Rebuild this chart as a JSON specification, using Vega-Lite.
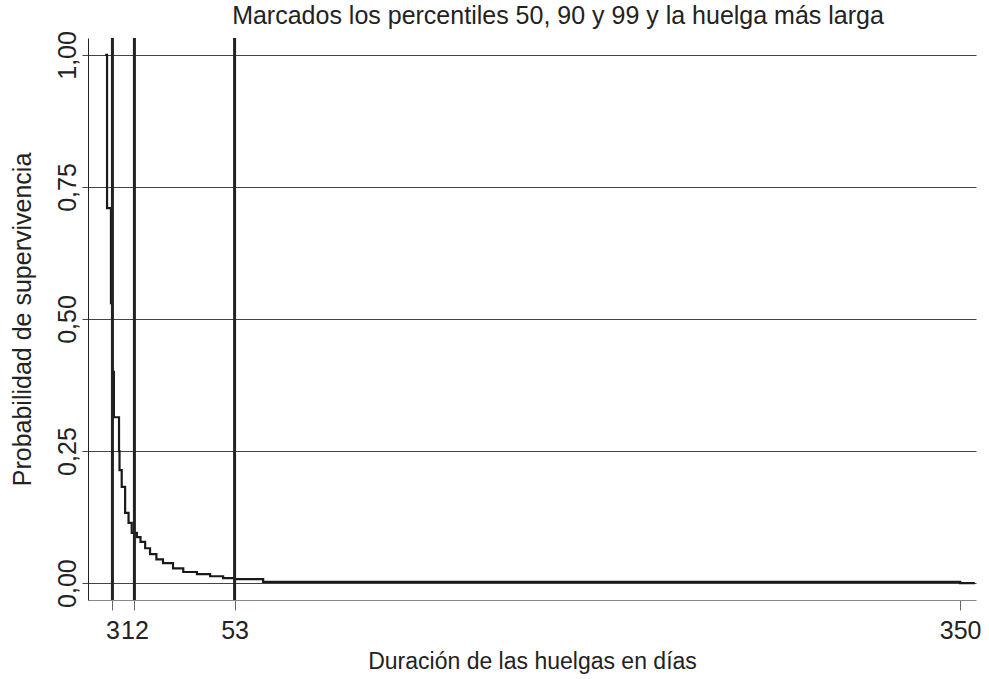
{
  "$schema": "https://vega.github.io/schema/vega-lite/v6.json",
  "width": 888,
  "height": 562,
  "autosize": {"type": "none"},
  "padding": {"left": 88, "top": 38, "right": 13, "bottom": 79},
  "background": "white",
  "config": {
    "view": {"stroke": null},
    "font": "Liberation Sans",
    "axis": {"labelFont": "Liberation Sans", "titleFont": "Liberation Sans", "labelColor": "#222", "titleColor": "#222", "titleFontWeight": "normal"}
  },
  "title": {
    "text": "Marcados los percentiles 50, 90 y 99 y la huelga más larga",
    "font": "Liberation Sans",
    "fontSize": 25,
    "fontWeight": "normal",
    "color": "#222",
    "anchor": "middle",
    "dx": 26,
    "offset": 2
  },
  "datasets": {
    "curve": [
      {"t": 0, "s": 1.0},
      {"t": 0.8, "s": 0.71},
      {"t": 2.4, "s": 0.53},
      {"t": 2.9, "s": 0.40},
      {"t": 3.6, "s": 0.314},
      {"t": 5.7, "s": 0.25},
      {"t": 5.9, "s": 0.214},
      {"t": 6.8, "s": 0.182},
      {"t": 8.2, "s": 0.133},
      {"t": 9.6, "s": 0.114},
      {"t": 10.9, "s": 0.095},
      {"t": 13, "s": 0.087},
      {"t": 14.5, "s": 0.078},
      {"t": 16.4, "s": 0.066},
      {"t": 18.4, "s": 0.055},
      {"t": 21, "s": 0.045},
      {"t": 23.7, "s": 0.038},
      {"t": 27.8, "s": 0.028},
      {"t": 32, "s": 0.021},
      {"t": 37.6, "s": 0.017},
      {"t": 43, "s": 0.013},
      {"t": 48.3, "s": 0.0095},
      {"t": 53, "s": 0.0076},
      {"t": 64.7, "s": 0.0025},
      {"t": 350, "s": 0.0},
      {"t": 356, "s": 0.0}
    ],
    "marks": [
      {"d": 3},
      {"d": 12},
      {"d": 53}
    ]
  },
  "layer": [
    {
      "data": {"name": "curve"},
      "mark": {"type": "line", "interpolate": "step-after", "color": "#1a1a1a", "strokeWidth": 2.2},
      "encoding": {
        "x": {
          "field": "t", "type": "quantitative",
          "scale": {"domain": [-7, 356.5], "nice": false, "zero": false},
          "axis": {
            "title": "Duración de las huelgas en días",
            "titleFontSize": 23,
            "titlePadding": 7,
            "values": [3, 12, 53, 350],
            "labelFontSize": 25,
            "labelPadding": 8,
            "tickSize": 10,
            "tickColor": "#666",
            "domainColor": "#888",
            "grid": false,
            "labelFlush": false,
            "labelOverlap": false
          }
        },
        "y": {
          "field": "s", "type": "quantitative",
          "scale": {"domain": [-0.032, 1.032], "nice": false, "zero": false},
          "axis": {
            "title": "Probabilidad de supervivencia",
            "titleFontSize": 25,
            "titlePadding": 20,
            "values": [0, 0.25, 0.5, 0.75, 1],
            "labelExpr": "replace(format(datum.value, '.2f'), '.', ',')",
            "labelAngle": -90,
            "labelAlign": "center",
            "labelBaseline": "alphabetic",
            "labelFontSize": 25,
            "labelPadding": 7,
            "tickSize": 6,
            "tickColor": "#444",
            "domainColor": "#222",
            "grid": true,
            "gridColor": "#444",
            "gridWidth": 1,
            "labelFlush": false,
            "labelOverlap": false
          }
        }
      }
    },
    {
      "data": {"name": "marks"},
      "mark": {"type": "rule", "color": "#222", "strokeWidth": 3},
      "encoding": {
        "x": {"field": "d", "type": "quantitative"}
      }
    }
  ]
}
